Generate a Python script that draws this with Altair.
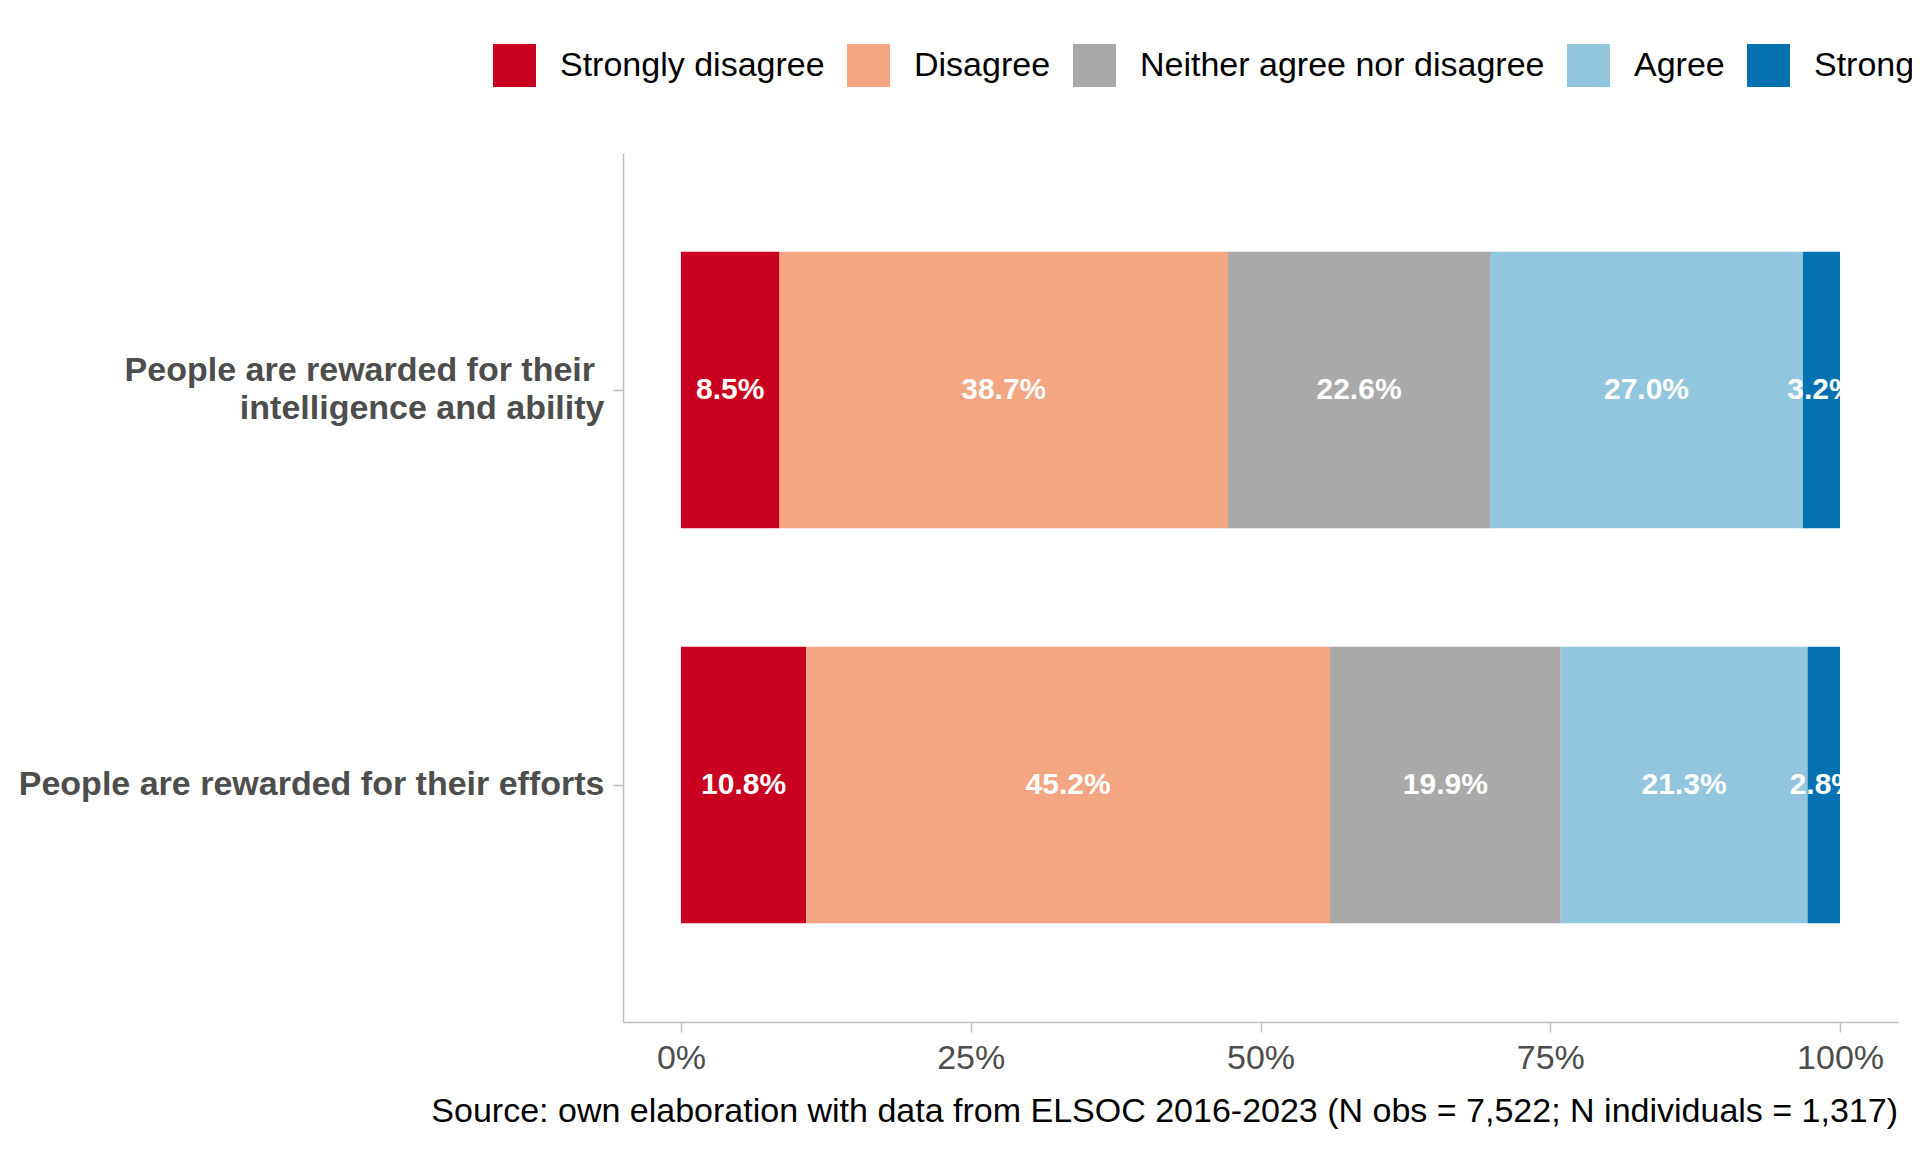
import altair as alt
import pandas as pd

items = [
    "People are rewarded for their\u00a0\u200b\nintelligence and ability",
    "People are rewarded for their efforts",
]
responses = ["Strongly disagree", "Disagree", "Neither agree nor disagree", "Agree", "Strongly agree"]
colors = ["#CA0020", "#F4A582", "#A9A9A9", "#92C5DE", "#0571B0"]
intelligence_pct = [8.5, 38.7, 22.6, 27.0, 3.2]
efforts_pct = [10.8, 45.2, 19.9, 21.3, 2.8]
x_ticks = [0, 25, 50, 75, 100]
caption = "Source: own elaboration with data from ELSOC 2016-2023 (N obs = 7,522; N individuals = 1,317)"

rows = []
for item, vals in zip(items, [intelligence_pct, efforts_pct]):
    for i, (r, v) in enumerate(zip(responses, vals)):
        rows.append({"item": item, "response": r, "order": i, "pct": v})
df = pd.DataFrame(rows)

FONT = "Liberation Sans"
AXIS_GRAY = "#bebebe"
LABEL_GRAY = "#4d4d4d"

base = (
    alt.Chart(df)
    .transform_stack(stack="pct", groupby=["item"], as_=["x0", "x1"],
                     sort=[alt.SortField("order", order="ascending")])
    .transform_calculate(mid="(datum.x0 + datum.x1) / 2",
                         label="format(datum.pct, '.1f') + '%'")
)

y_enc = alt.Y(
    "item:N",
    sort=items,
    scale=alt.Scale(paddingInner=0.3, paddingOuter=0.25),
    axis=alt.Axis(
        title=None,
        labelExpr="split(datum.label, '\\n')",
        labelOffset={"condition": {"test": "indexof(datum.value, '\\n') >= 0", "value": -19}, "value": 0},
        labelFont=FONT, labelFontSize=34, labelFontWeight="bold", labelColor=LABEL_GRAY,
        labelLineHeight=38, labelLimit=1000, labelPadding=9,
        domainColor=AXIS_GRAY, domainWidth=1.5,
        tickColor=AXIS_GRAY, tickWidth=1.5, tickSize=10,
        grid=False,
    ),
)

x_scale = alt.Scale(domain=[-5, 105], nice=False, zero=False)

bars = base.mark_bar().encode(
    y=y_enc,
    x=alt.X(
        "x0:Q",
        scale=x_scale,
        axis=alt.Axis(
            title=None, values=x_ticks, labelExpr="datum.value + '%'",
            labelFont=FONT, labelFontSize=34, labelColor=LABEL_GRAY,
            labelPadding=9, labelFlush=False, labelOverlap=False,
            domainColor=AXIS_GRAY, domainWidth=1.5,
            tickColor=AXIS_GRAY, tickWidth=1.5, tickSize=10,
            grid=False,
        ),
    ),
    x2="x1:Q",
    color=alt.Color(
        "response:N",
        scale=alt.Scale(domain=responses, range=colors),
        legend=alt.Legend(
            title=None, orient="none", legendX=-130, legendY=-109,
            direction="horizontal", columns=5, padding=0,
            symbolType="square", symbolSize=1849, symbolStrokeWidth=0, symbolOpacity=1,
            labelFont=FONT, labelFontSize=34, labelColor="black",
            labelOffset=24, columnPadding=22, labelLimit=1000,
        ),
    ),
)

labels = base.mark_text(
    font=FONT, fontSize=30, fontWeight="bold", color="white", baseline="middle", align="center"
).encode(
    y=alt.Y("item:N", sort=items),
    x=alt.X("mid:Q", scale=x_scale),
    text="label:N",
)

chart = (
    alt.layer(bars, labels)
    .properties(
        width=1275,
        height=869,
        autosize=alt.AutoSizeParams(type="none"),
        padding={"left": 615, "top": 145, "right": 14, "bottom": 122},
        title=alt.TitleParams(
            caption, orient="bottom", anchor="end", frame="group",
            font=FONT, fontSize=34, fontWeight="normal", color="black", offset=20,
        ),
    )
    .configure_view(stroke=None)
)

chart.save("out.html", embed_options={"renderer": "svg", "actions": False})
